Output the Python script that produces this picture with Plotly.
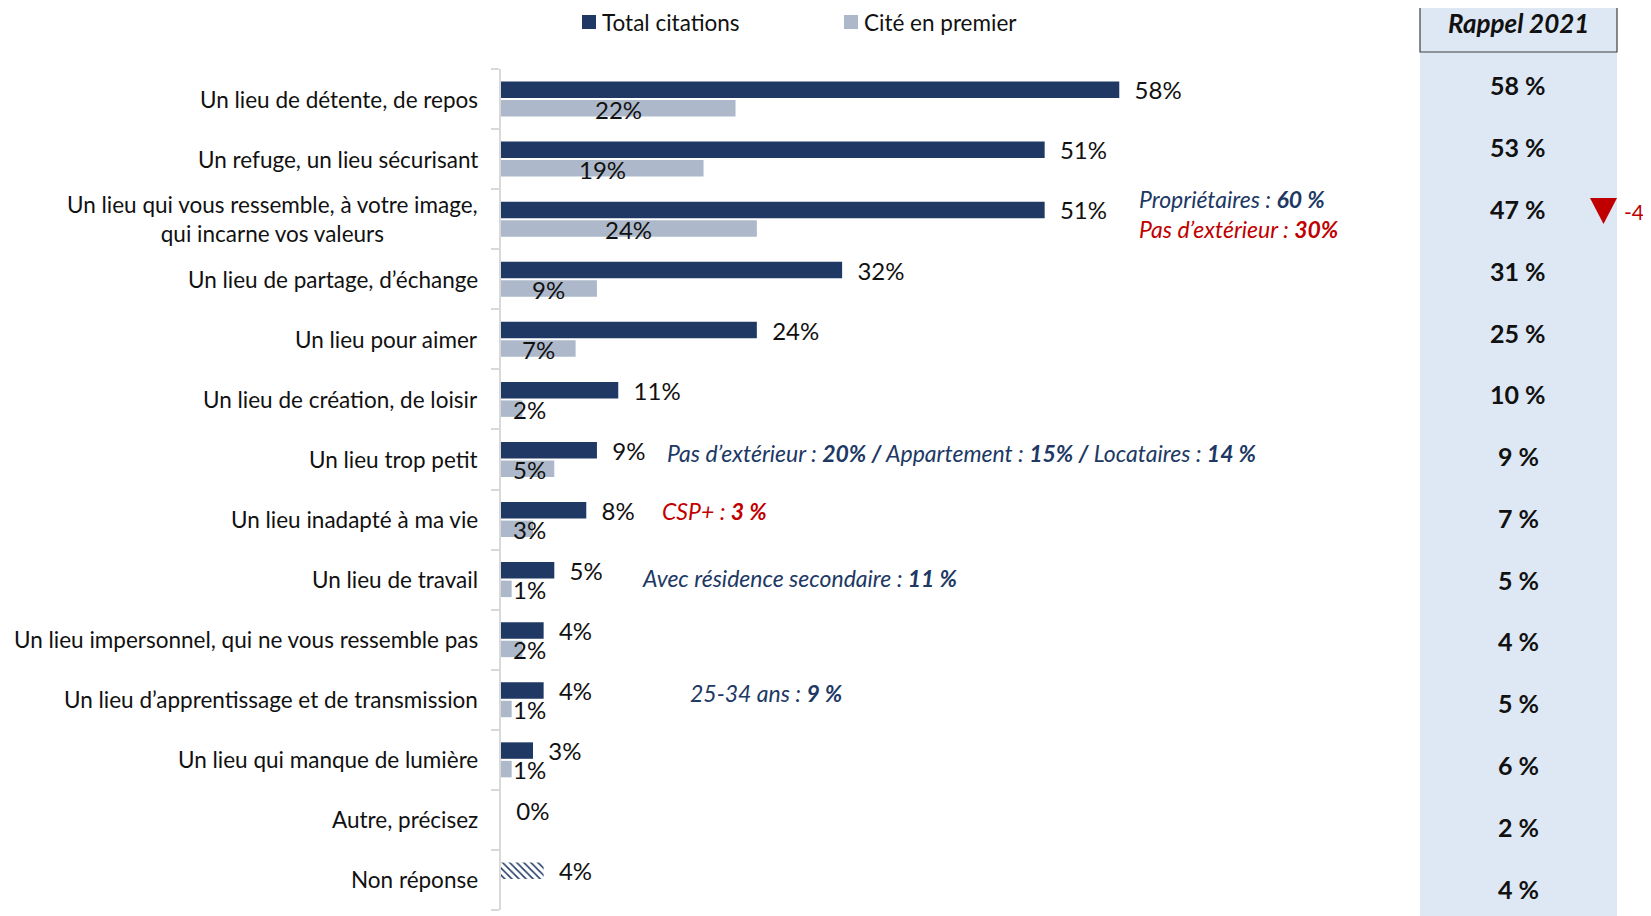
import plotly.graph_objects as go

categories = [
    "Un lieu de détente, de repos",
    "Un refuge, un lieu sécurisant",
    "Un lieu qui vous ressemble, à votre image,<br>qui incarne vos valeurs",
    "Un lieu de partage, d’échange",
    "Un lieu pour aimer",
    "Un lieu de création, de loisir",
    "Un lieu trop petit",
    "Un lieu inadapté à ma vie",
    "Un lieu de travail",
    "Un lieu impersonnel, qui ne vous ressemble pas",
    "Un lieu d’apprentissage et de transmission",
    "Un lieu qui manque de lumière",
    "Autre, précisez",
    "Non réponse",
]
total_citations = [58, 51, 51, 32, 24, 11, 9, 8, 5, 4, 4, 3, 0, 4]
cite_premier = [22, 19, 24, 9, 7, 2, 5, 3, 1, 2, 1, 1, None, None]
rappel_2021 = ["58 %", "53 %", "47 %", "31 %", "25 %", "10 %", "9 %", "7 %",
               "5 %", "4 %", "5 %", "6 %", "2 %", "4 %"]

NAVY = "#203864"
LIGHT = "#adb9ca"
PALE = "#dde8f4"
RED = "#c00000"
FONT = "Lato, 'Noto Sans', sans-serif"
FS = 22.5
FS_VAL = 24
FS_NOTE = 23
FS_RAP = 25

OFF = 8  # page body margin
W, H = 1651 - OFF, 916 - OFF
ML, MR, MT = 501 - OFF, 231, 69 - OFF
PLOT_BOTTOM = 910 - OFF
MB = max(H - PLOT_BOTTOM, 0)
PW, PH = W - ML - MR, H - MT - MB
PX_PER_PCT = 10.66


def px(x):
    return (x - OFF - ML) / PW


def py(y):
    return 1 - (y - OFF - MT) / PH


n = len(categories)
ids = list(range(n))
pattern_shapes = ["" for _ in ids]
pattern_shapes[-1] = "\\"

fig = go.Figure()
fig.add_trace(go.Bar(
    y=ids, x=total_citations, orientation="h", name="Total citations",
    marker=dict(color=NAVY, line=dict(width=0),
                pattern=dict(shape=pattern_shapes, fgcolor=NAVY, bgcolor="white",
                             size=5, solidity=0.3, fillmode="replace")),
    text=["\u00a0\u00a0" + f"{v}%" for v in total_citations],
    textposition="outside", cliponaxis=False, constraintext="none",
    textfont=dict(family=FONT, size=FS_VAL, color="#111111"),
    showlegend=False, hoverinfo="skip",
))
fig.add_trace(go.Bar(
    y=ids, x=cite_premier, orientation="h", name="Cité en premier",
    marker=dict(color=LIGHT, line=dict(width=0)),
    showlegend=False, hoverinfo="skip",
))

annotations = []
shapes = []

# category labels
for i, c in enumerate(categories):
    annotations.append(dict(
        x=0, y=i, xref="x", yref="y", text=c, showarrow=False,
        xanchor="right", yanchor="middle", align="center", xshift=-21,
        font=dict(family=FONT, size=FS, color="#111111"),
    ))

# light bar labels
for i, v in enumerate(cite_premier):
    if v is None:
        continue
    annotations.append(dict(
        x=max(v / 2, 2.7), y=i, xref="x", yref="y", yshift=-10,
        text=f"{v}%", showarrow=False, xanchor="center", yanchor="middle",
        font=dict(family=FONT, size=FS_VAL, color="#111111"),
    ))

# legend
shapes.append(dict(type="rect", xref="paper", yref="paper",
                   x0=px(582), x1=px(596), y0=py(29), y1=py(15),
                   fillcolor=NAVY, line=dict(width=0)))
annotations.append(dict(xref="paper", yref="paper", x=px(600), y=py(22),
                        text="Total citations", showarrow=False, xanchor="left",
                        yanchor="middle", font=dict(family=FONT, size=FS, color="#111111")))
shapes.append(dict(type="rect", xref="paper", yref="paper",
                   x0=px(844), x1=px(858), y0=py(29), y1=py(15),
                   fillcolor=LIGHT, line=dict(width=0)))
annotations.append(dict(xref="paper", yref="paper", x=px(862), y=py(22),
                        text="Cité en premier", showarrow=False, xanchor="left",
                        yanchor="middle", font=dict(family=FONT, size=FS, color="#111111")))

# Rappel 2021 column
shapes.append(dict(type="rect", xref="paper", yref="paper",
                   x0=px(1420), x1=px(1617), y0=py(940), y1=py(52),
                   fillcolor=PALE, line=dict(width=0), layer="below"))
shapes.append(dict(type="rect", xref="paper", yref="paper",
                   x0=px(1420), x1=px(1617), y0=py(52), y1=py(-2),
                   fillcolor=PALE, line=dict(width=1.2, color="#404040"), layer="below"))
annotations.append(dict(xref="paper", yref="paper", x=px(1518), y=py(23),
                        text="<b><i>Rappel 2021</i></b>", showarrow=False,
                        xanchor="center", yanchor="middle",
                        font=dict(family=FONT, size=26, color="#111111")))
for i, r in enumerate(rappel_2021):
    annotations.append(dict(xref="paper", yref="paper", x=px(1518), y=py(85.3 + 61.8 * i),
                            text=f"<b>{r}</b>", showarrow=False,
                            xanchor="center", yanchor="middle",
                            font=dict(family=FONT, size=FS_RAP, color="#111111")))

# red triangle and delta
shapes.append(dict(type="path", xref="paper", yref="paper",
                   path=f"M {px(1590)} {py(198)} L {px(1617)} {py(198)} L {px(1603.5)} {py(224)} Z",
                   fillcolor=RED, line=dict(width=0)))
annotations.append(dict(xref="paper", yref="paper", x=px(1622), y=py(211),
                        text="-4", showarrow=False, xanchor="left", yanchor="middle",
                        font=dict(family=FONT, size=21, color=RED)))

# sub-group notes
BLUE_TXT = "#203864"
notes = [
    (1137, 199, "<i>Propriétaires : <b>60 %</b></i>", BLUE_TXT),
    (1137, 228.5, "<i>Pas d’extérieur : <b>30%</b></i>", RED),
    (665, 453, "<i>Pas d’extérieur : <b>20% /</b> Appartement : <b>15% /</b> Locataires : <b>14 %</b></i>", BLUE_TXT),
    (660, 511, "<i>CSP+ : <b>3 %</b></i>", RED),
    (640, 578, "<i>Avec résidence secondaire : <b>11 %</b></i>", BLUE_TXT),
    (688, 693, "<i>25-34 ans : <b>9 %</b></i>", BLUE_TXT),
]
for x, y, t, col in notes:
    annotations.append(dict(xref="paper", yref="paper", x=px(x), y=py(y), text=t,
                            showarrow=False, xanchor="left", yanchor="middle",
                            font=dict(family=FONT, size=FS_NOTE, color=col)))

fig.update_layout(
    width=W, height=H,
    margin=dict(l=ML, r=MR, t=MT, b=MB, pad=0),
    paper_bgcolor="white", plot_bgcolor="white",
    barmode="group", bargap=0.384, bargroupgap=0.11,
    annotations=annotations, shapes=shapes,
    font=dict(family=FONT, size=FS, color="#111111"),
)
fig.update_xaxes(range=[0, PW / PX_PER_PCT], visible=False, fixedrange=True)
fig.update_yaxes(
    type="linear", range=[n - 0.5, -0.5], showgrid=False, zeroline=False,
    showline=True, linecolor="#d9d9d9", linewidth=1.5,
    tickmode="array", tickvals=[i - 0.5 for i in range(n + 1)],
    ticks="outside", ticklen=8, tickcolor="#d9d9d9", tickwidth=1.5,
    showticklabels=False, fixedrange=True,
)

fig.write_html("out.html")
